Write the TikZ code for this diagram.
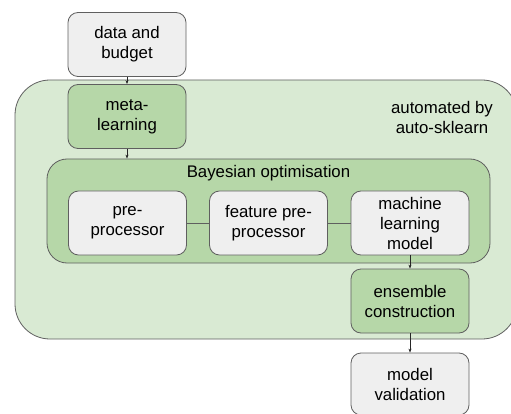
\documentclass[tikz,border=0pt]{standalone}
\usepackage{fontspec}
\setmainfont{Liberation Sans}
\usetikzlibrary{arrows.meta}
\definecolor{boxgrey}{HTML}{EFEFEF}
\definecolor{palegreen}{HTML}{D9EAD3}
\definecolor{midgreen}{HTML}{B6D7A8}
\definecolor{edge}{HTML}{5F5F5F}
\newcommand{\labelfont}{\fontsize{16.8}{20}\selectfont}
\tikzset{
  stage/.style={draw=edge, line width=0.8pt, fill=boxgrey, rounded corners=10pt,
    minimum width=118pt, minimum height=64pt, align=center, inner sep=1pt,
    font=\labelfont},
  greenstage/.style={stage, fill=midgreen},
  flow/.style={-{Stealth[length=4pt,width=3pt]}, line width=0.8pt, draw=black!85},
  link/.style={line width=0.8pt, draw=edge}
}
\begin{document}
\begin{tikzpicture}[x=1pt,y=-1pt]
\useasboundingbox (0,0) rectangle (511,414);

% outer area and the optimisation loop
\node[draw=edge, line width=0.8pt, fill=palegreen, rounded corners=35pt,
  minimum width=502pt, minimum height=259pt] (outer) at (266,209.5) {};
\node[draw=edge, line width=0.8pt, fill=midgreen, rounded corners=20pt,
  minimum width=443pt, minimum height=104pt] (bayes) at (268.5,211) {};
\node[font=\labelfont] (bayestitle) at (268.5,173) {Bayesian optimisation};
\node[font=\labelfont, align=center] (autotext) at (442,117) {automated by\\auto-sklearn};

% stages
\node[stage] (data) at (127,44.5) {data and\\budget};
\node[greenstage] (meta) at (127,116.5) {meta-\\learning};
\node[stage] (pre) at (127.5,223) {pre-\\processor};
\node[stage] (feat) at (268.5,223) {feature pre-\\processor};
\node[stage] (ml) at (410,223) {machine\\learning\\model};
\node[greenstage] (ens) at (410,301) {ensemble\\construction};
\node[stage, minimum height=62pt] (valid) at (410,384) {model\\validation};

% connectors
\draw[flow] (data) -- (meta);
\draw[flow] (meta) -- (meta |- bayes.north);
\draw[link] (pre) -- (feat);
\draw[link] (feat) -- (ml);
\draw[flow] (ml) -- (ens);
\draw[flow] (ens) -- (valid);
\end{tikzpicture}
\end{document}
